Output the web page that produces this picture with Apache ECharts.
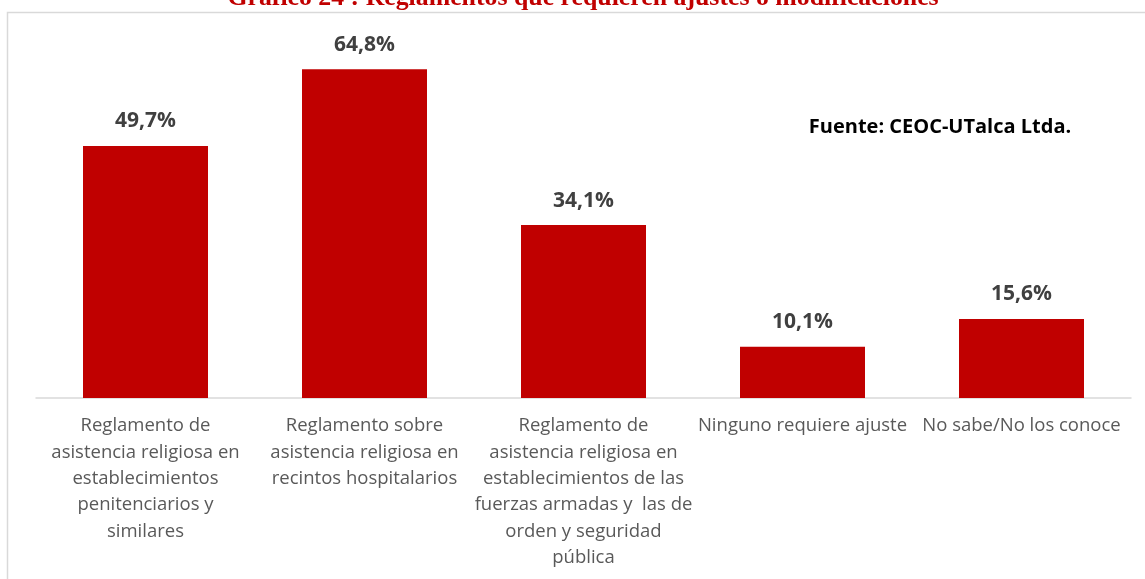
<!DOCTYPE html>
<html>
<head>
<meta charset="utf-8">
<script src="https://cdn.jsdelivr.net/npm/echarts@6/dist/echarts.min.js"></script>
<style>
  html, body { margin: 0; padding: 0; background: #fff; }
  #main { width: 1145px; height: 579px; }
</style>
</head>
<body>
<div id="main"></div>
<script>
// categorías (con los saltos de línea del gráfico original)
var categorias = [
  'Reglamento de\nasistencia religiosa en\nestablecimientos\npenitenciarios y\nsimilares',
  'Reglamento sobre\nasistencia religiosa en\nrecintos hospitalarios',
  'Reglamento de\nasistencia religiosa en\nestablecimientos de las\nfuerzas armadas y  las de\norden y seguridad\npública',
  'Ninguno requiere ajuste',
  'No sabe/No los conoce'
];
// porcentajes
var valores = [49.7, 64.8, 34.1, 10.1, 15.6];

var titulo = 'Gráfico 24 : Reglamentos que requieren ajustes o modificaciones';
var fuente = 'Fuente: CEOC-UTalca Ltda.';

var chart = echarts.init(document.getElementById('main'));

var option = {
  animation: false,
  backgroundColor: '#ffffff',
  grid: { left: 36, right: 14, top: 43, bottom: 181, containLabel: false },
  xAxis: {
    type: 'category',
    data: categorias,
    axisLine: { show: true, lineStyle: { color: '#d9d9d9', width: 1.5 } },
    axisTick: { show: false },
    axisLabel: {
      interval: 0,
      color: '#595959',
      fontFamily: 'Open Sans',
      fontSize: 18.5,
      lineHeight: 26.3,
      margin: 15
    }
  },
  yAxis: {
    type: 'value',
    min: 0,
    max: 70,
    show: false
  },
  series: [{
    type: 'bar',
    data: valores,
    barWidth: 125,
    itemStyle: { color: '#c00000' },
    label: {
      show: true,
      position: 'top',
      distance: 14,
      color: '#404040',
      fontFamily: 'Open Sans',
      fontWeight: 'bold',
      fontSize: 21,
      formatter: function (p) {
        return p.value.toFixed(1).replace('.', ',') + '%';
      }
    }
  }],
  graphic: [
    {
      type: 'rect',
      shape: { x: 7.5, y: 12.5, width: 1200, height: 600 },
      style: { fill: 'none', stroke: '#d9d9d9', lineWidth: 1.5 },
      z: -1
    },
    {
      type: 'text',
      x: 583,
      y: -1.5,
      style: {
        text: titulo,
        fill: '#c00000',
        font: 'bold 25.8px "Liberation Serif"',
        align: 'center',
        verticalAlign: 'middle'
      }
    },
    {
      type: 'text',
      x: 940,
      y: 127,
      style: {
        text: fuente,
        fill: '#000000',
        font: 'bold 20px "Open Sans"',
        align: 'center',
        verticalAlign: 'middle'
      }
    }
  ]
};

chart.setOption(option);
</script>
</body>
</html>
